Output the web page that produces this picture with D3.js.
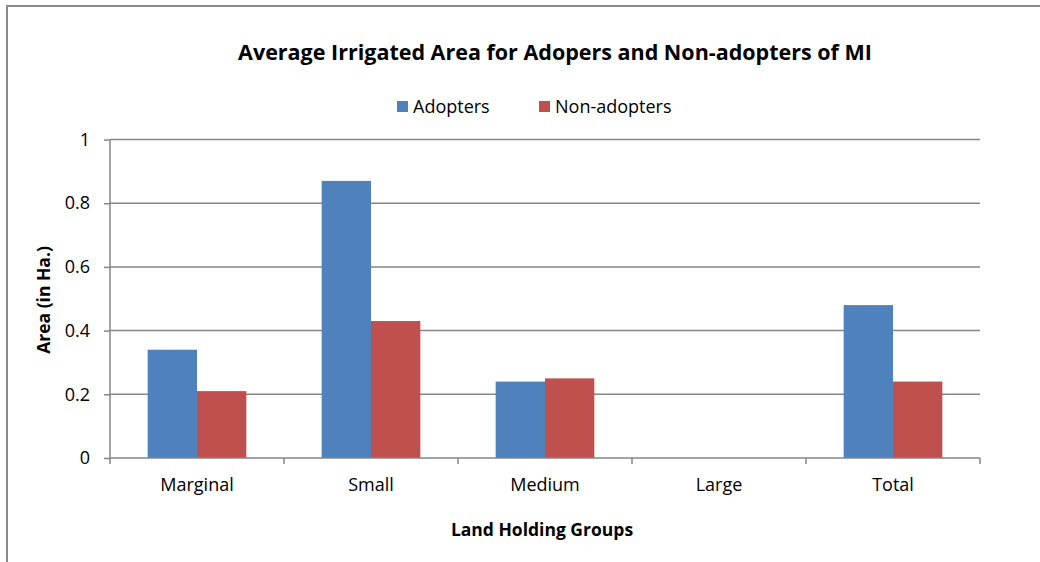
<!DOCTYPE html>
<html>
<head>
<meta charset="utf-8">
<script src="https://cdn.jsdelivr.net/npm/d3@7"></script>
<style>
  body { margin: 0; background: #fff; }
  svg text { font-family: "Open Sans", "Noto Sans", sans-serif; fill: #000; }
</style>
</head>
<body>
<svg id="chart" width="1040" height="562"></svg>
<script>
var categories = ["Marginal", "Small", "Medium", "Large", "Total"];
var seriesNames = ["Adopters", "Non-adopters"];
var adopters = [0.34, 0.87, 0.24, 0, 0.48];
var nonAdopters = [0.21, 0.43, 0.25, 0, 0.24];
var yTicks = [0, 0.2, 0.4, 0.6, 0.8, 1];
var colors = ["#4F81BD", "#C0504D"];

var svg = d3.select("#chart");
var width = 1040, height = 562;

// outer chart frame
svg.append("rect")
    .attr("x", 7).attr("y", 6)
    .attr("width", 1060).attr("height", 600)
    .attr("fill", "none")
    .attr("stroke", "#8a8a8a")
    .attr("stroke-width", 2);

var plot = { left: 110, right: 980, top: 139.5, bottom: 458 };

var x = d3.scaleBand()
    .domain(categories)
    .range([plot.left, plot.right])
    .paddingInner(0.433)
    .paddingOuter(0.2165);

var x1 = d3.scaleBand()
    .domain(seriesNames)
    .range([0, x.bandwidth()]);

var y = d3.scaleLinear()
    .domain([0, 1])
    .range([plot.bottom, plot.top]);

// gridlines
svg.append("g")
    .selectAll("line")
    .data(yTicks.slice(1))
    .enter().append("line")
    .attr("x1", plot.left).attr("x2", plot.right)
    .attr("y1", function (d) { return y(d); })
    .attr("y2", function (d) { return y(d); })
    .attr("stroke", "#868686")
    .attr("stroke-width", 1.5);

// bars
var rows = categories.map(function (c, i) {
    return { cat: c, values: [adopters[i], nonAdopters[i]] };
});

var groups = svg.append("g").selectAll("g")
    .data(rows)
    .enter().append("g")
    .attr("transform", function (d) { return "translate(" + x(d.cat) + ",0)"; });

groups.selectAll("rect")
    .data(function (d) {
        return d.values.map(function (v, j) { return { name: seriesNames[j], value: v, j: j }; });
    })
    .enter().append("rect")
    .attr("x", function (d) { return x1(d.name); })
    .attr("y", function (d) { return y(d.value); })
    .attr("width", x1.bandwidth())
    .attr("height", function (d) { return plot.bottom - y(d.value); })
    .attr("fill", function (d) { return colors[d.j]; });

// y axis
var yAxis = svg.append("g")
    .attr("transform", "translate(" + plot.left + ",0)")
    .call(d3.axisLeft(y).tickValues(yTicks).tickSize(6).tickPadding(14)
        .tickFormat(function (d) { return d3.format("")(d); }));
yAxis.select(".domain").attr("stroke", "#868686").attr("stroke-width", 1.5).attr("d", "M0," + plot.top + "V" + plot.bottom);
yAxis.selectAll(".tick line").attr("stroke", "#868686").attr("stroke-width", 1.5);
yAxis.selectAll(".tick text").style("font-size", "18px").attr("fill", "#000");

// x axis
var xEdges = categories.map(function (c) { return x(c) - x.step() * x.paddingInner() / 2; });
xEdges.push(plot.right);
var xAxis = svg.append("g")
    .attr("transform", "translate(0," + plot.bottom + ")")
    .call(d3.axisBottom(x).tickSize(0).tickPadding(20));
xAxis.select(".domain").attr("stroke", "#868686").attr("stroke-width", 1.5).attr("d", "M" + plot.left + ",0H" + plot.right);
xAxis.selectAll(".tick text").style("font-size", "18px").attr("fill", "#000");
xAxis.selectAll(".edge")
    .data(xEdges)
    .enter().append("line")
    .attr("class", "edge")
    .attr("x1", function (d) { return d; }).attr("x2", function (d) { return d; })
    .attr("y1", 0).attr("y2", 6)
    .attr("stroke", "#868686").attr("stroke-width", 1.5);

// title
svg.append("text")
    .attr("x", 555).attr("y", 60)
    .attr("text-anchor", "middle")
    .style("font-size", "21.5px").style("font-weight", "bold")
    .text("Average Irrigated Area for Adopers and Non-adopters of MI");

// axis titles
svg.append("text")
    .attr("x", 542).attr("y", 536)
    .attr("text-anchor", "middle")
    .style("font-size", "17.5px").style("font-weight", "bold")
    .text("Land Holding Groups");

svg.append("text")
    .attr("transform", "translate(50,300) rotate(-90)")
    .attr("text-anchor", "middle")
    .style("font-size", "17.5px").style("font-weight", "bold")
    .text("Area (in Ha.)");

// legend
var legendX = [397, 539];
var legend = svg.append("g").selectAll("g")
    .data(seriesNames)
    .enter().append("g")
    .attr("transform", function (d, i) { return "translate(" + legendX[i] + ",101)"; });
legend.append("rect")
    .attr("width", 11).attr("height", 11)
    .attr("fill", function (d, i) { return colors[i]; });
legend.append("text")
    .attr("x", 16).attr("y", 12)
    .style("font-size", "18px")
    .text(function (d) { return d; });
</script>
</body>
</html>
